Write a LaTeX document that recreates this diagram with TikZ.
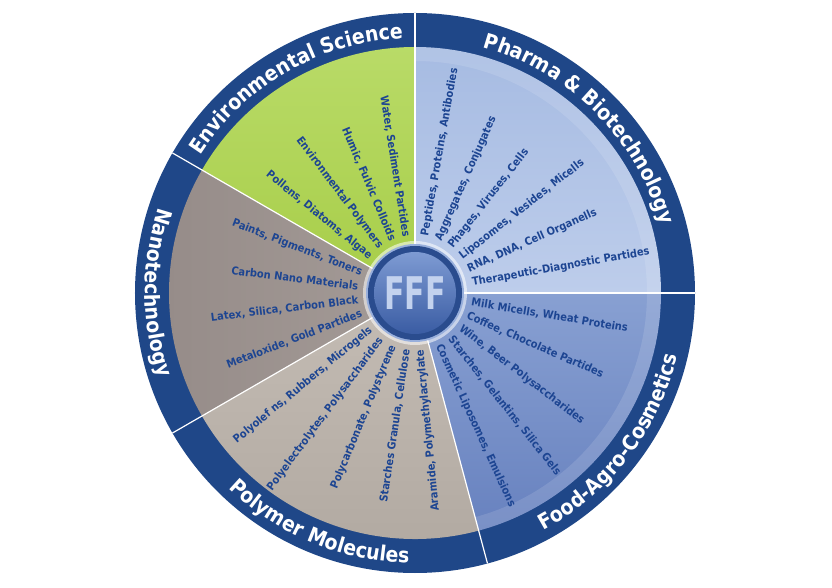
\documentclass[tikz,border=0pt]{standalone}
\usepackage{fontspec}
\setmainfont{DejaVu Sans Condensed}
\usetikzlibrary{decorations.text}
\definecolor{band}{HTML}{1F4788}
\definecolor{itemblue}{HTML}{1D4592}
\definecolor{envA}{HTML}{B9DB68}
\definecolor{envB}{HTML}{A7CD48}
\definecolor{phA}{HTML}{BDCDEB}
\definecolor{phB}{HTML}{A6BBE2}
\definecolor{foA}{HTML}{88A0D2}
\definecolor{foB}{HTML}{6680BE}
\definecolor{naA}{HTML}{A49B97}
\definecolor{naB}{HTML}{968C89}
\definecolor{poA}{HTML}{C4BCB4}
\definecolor{poB}{HTML}{B2AAA2}
\definecolor{ringdark}{HTML}{2A4C8E}
\definecolor{discA}{HTML}{7E9BD3}
\definecolor{discB}{HTML}{3A5CA3}
\definecolor{fffc}{HTML}{C3D2EE}
\tikzset{
  item/.style={font=\bfseries\fontsize{11}{12}\selectfont, text=itemblue, inner sep=0pt},
  itemL/.style={item, anchor=east},
  itemR/.style={item, anchor=west},
  divider/.style={white, line width=1.2pt},
  rim/.style={white, opacity=0.12},
  titletext/.style={decorate, decoration={text along path, text align=center, text color=white, text={|\bfseries\fontsize{21}{22}\selectfont|#1}}}
}
\newcommand\secclip[2]{\clip (0,0) -- (#1:246pt) arc[start angle=#1, end angle=#2, radius=246pt] -- cycle;}
\begin{document}
\begin{tikzpicture}
\useasboundingbox (-415pt,-295pt) rectangle (417pt,293pt);
% outer band
\fill[band] (0,0) circle (280pt);
% sectors
\begin{scope}\secclip{90}{150}
\shade[top color=envA, bottom color=envB] (-250pt,0pt) rectangle (0pt,250pt);
\end{scope}
\begin{scope}\secclip{0}{90}
\shade[top color=phB, bottom color=phA] (0pt,0pt) rectangle (250pt,250pt);
\fill[rim, even odd rule] (0,0) circle (246pt) (0,0) circle (232pt);
\end{scope}
\begin{scope}\secclip{285}{360}
\shade[top color=foA, bottom color=foB] (0pt,-250pt) rectangle (250pt,0pt);
\fill[rim, even odd rule] (0,0) circle (246pt) (0,0) circle (232pt);
\end{scope}
\begin{scope}\secclip{150}{210}
\shade[left color=naB, right color=naA] (-250pt,-130pt) rectangle (0pt,130pt);
\end{scope}
\begin{scope}\secclip{210}{285}
\shade[top color=poA, bottom color=poB] (-250pt,-250pt) rectangle (80pt,0pt);
\end{scope}
% dividers
\foreach \a in {0,90,150,210,285} \draw[divider] (0,0) -- (\a:280pt);
% titles
\path[titletext={Environmental Science}] (150:255pt) arc[start angle=150, end angle=90, radius=255pt];
\path[titletext={Pharma {\&} Biotechnology}] (90:255pt) arc[start angle=90, end angle=0, radius=255pt];
\path[titletext={Nanotechnology}] (150:270pt) arc[start angle=150, end angle=210, radius=270pt];
\path[titletext={Polymer Molecules}] (210:270pt) arc[start angle=210, end angle=285, radius=270pt];
\path[titletext={Food-Agro-Cosmetics}] (285:270pt) arc[start angle=285, end angle=360, radius=270pt];
% center
\fill[white, opacity=0.55] (0,0) circle (52pt);
\fill[fill=discA!80!white] (0,0) circle (49pt);
\fill[ringdark] (0,0) circle (47pt);
\shade[top color=discA, bottom color=discB] (0,0) circle (41pt);
\node[font=\bfseries\fontsize{45}{45}\selectfont, text=fffc, xscale=0.74, inner sep=0pt] (fff) at (0,0) {FFF};
% Environmental Science items
\node[itemL, rotate=279] (e1) at (99:57pt) {Water, Sediment Partides};
\node[itemL, rotate=293] (e2) at (113:57pt) {Humic, Fulvic Colloids};
\node[itemL, rotate=307] (e3) at (127:57pt) {Environmental Polymers};
\node[itemL, rotate=321] (e4) at (141:57pt) {Pollens, Diatoms, Algae};
% Pharma items
\node[itemR, rotate=80] (p1) at (80:58pt) {Peptides, Proteins, Antibodies};
\node[itemR, rotate=66] (p2) at (66:58pt) {Aggregates, Conjugates};
\node[itemR, rotate=52] (p3) at (52:58pt) {Phages, Viruses, Cells};
\node[itemR, rotate=38] (p4) at (38:58pt) {Liposomes, Vesides, Micells};
\node[itemR, rotate=24] (p5) at (24:58pt) {RNA, DNA, Cell Organells};
\node[itemR, rotate=10] (p6) at (10:58pt) {Therapeutic-Diagnostic Partides};
% Nanotechnology items
\node[itemL, rotate=339] (n1) at (159:57pt) {Paints, Pigments, Toners};
\node[itemL, rotate=353] (n2) at (173:57pt) {Carbon Nano Materials};
\node[itemL, rotate=7] (n3) at (187:57pt) {Latex, Silica, Carbon Black};
\node[itemL, rotate=21] (n4) at (201:57pt) {Metaloxide, Gold Partides};
% Polymer items
\node[itemL, rotate=39.5] (m1) at (219.5:57pt) {Polyolef ns, Rubbers, Microgels};
\node[itemL, rotate=53.5] (m2) at (233.5:57pt) {Polyelectrolytes, Polysaccharides};
\node[itemL, rotate=67.5] (m3) at (247.5:57pt) {Polycarbonate, Polystyrene};
\node[itemL, rotate=81.5] (m4) at (261.5:57pt) {Starches Granula, Cellulose};
\node[itemL, rotate=95.5] (m5) at (275.5:57pt) {Aramide, Polymethylacrylate};
% Food items
\node[itemR, rotate=-9.5] (f1) at (-9.5:57pt) {Milk Micells, Wheat Proteins};
\node[itemR, rotate=-23.5] (f2) at (-23.5:57pt) {Coffee, Chocolate Partides};
\node[itemR, rotate=-37.5] (f3) at (-37.5:57pt) {Wine, Beer Polysaccharides};
\node[itemR, rotate=-51.5] (f4) at (-51.5:57pt) {Starches, Gelantins, Silica Gels};
\node[itemR, rotate=-65.5] (f5) at (-65.5:57pt) {Cosmetic Liposomes, Emulsions};
\end{tikzpicture}
\end{document}
